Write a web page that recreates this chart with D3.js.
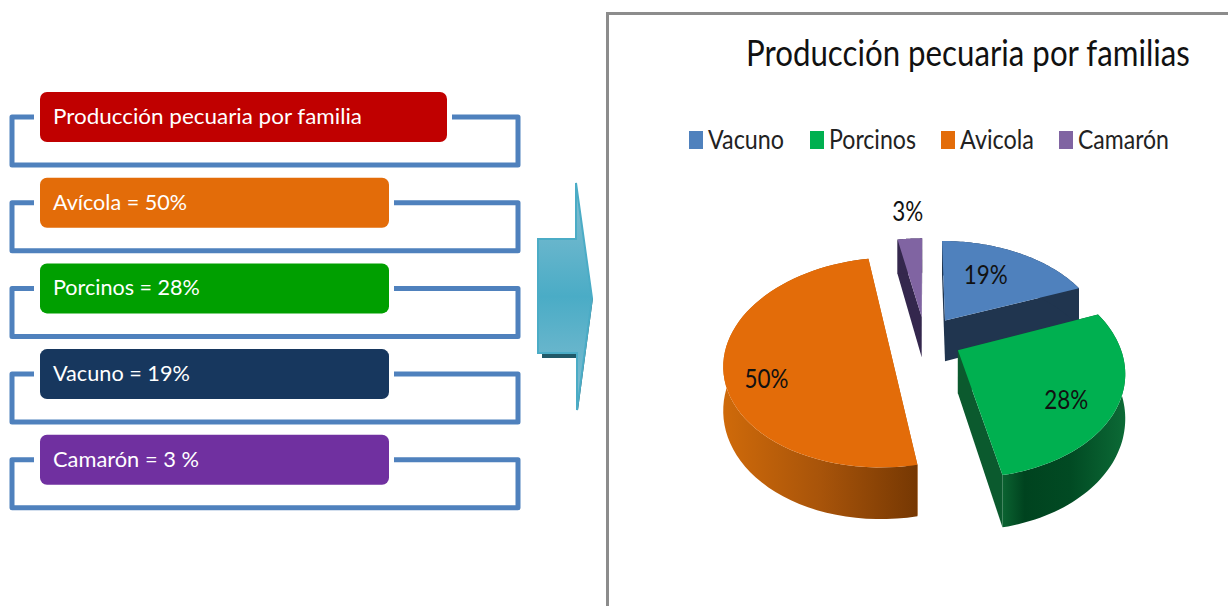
<!DOCTYPE html>
<html><head><meta charset="utf-8">
<script src="https://cdn.jsdelivr.net/npm/d3@7/dist/d3.min.js"></script>
<style>html,body{margin:0;padding:0;background:#fff;overflow:hidden}svg{display:block}text{font-family:Lato,"Open Sans",sans-serif}</style>
</head><body><svg id="c" width="1228" height="606"></svg>
<script>
const categories = ["Vacuno","Porcinos","Avicola","Camarón"];
const shares = [19,28,50,3];
const chartTitle = "Producción pecuaria por familias";
const listLabels = ["Producción pecuaria por familia","Avícola = 50%","Porcinos = 28%","Vacuno = 19%","Camarón = 3 %"];
const listColors = ["#c00000","#e36c09","#009f00","#17375e","#7030a0"];
const topColors = ["#4f81bd","#00b050","#e36c09","#8064a2"];
const sideColors = ["#20354f","#0b5a2e","#b85c08","#34274d"];
const labelRadius = [0.52,0.72,0.74,1.42];
const labelNudgeX = [0,-4,-1,2];
const labelNudgeY = [-9,10,20,-1];
const legendX = [689,810,941,1059];
const legendW = [76,87,74,91];
const listTextW = [309,134,147,137,146];

const svg = d3.select("#c");
const defs = svg.append("defs");
function grad(id,stops,vertical){
  const g=defs.append("linearGradient").attr("id",id).attr("x1",0).attr("y1",0).attr("x2",vertical?0:1).attr("y2",vertical?1:0);
  stops.forEach(s=>g.append("stop").attr("offset",s[0]).attr("stop-color",s[1]));
}
grad("wallA",[[0,"#cf6a0a"],[0.5,"#a8540a"],[1,"#763803"]]);
grad("wallP",[[0,"#0b6331"],[0.18,"#00431f"],[0.55,"#014a23"],[1,"#0c6a36"]]);
grad("arrow",[[0,"#86bfd2"],[0.5,"#4aacc6"],[1,"#86bfd2"]],true);

// fit a text to a width by horizontal scaling
function fit(sel,x,y,w){
  sel.attr("x",0).attr("y",0);
  const n=sel.node(), len=n.getComputedTextLength();
  sel.attr("transform",`translate(${x},${y}) scale(${w/len},1)`);
}

/* left list */
const rowY = d3.scaleLinear().domain([0,1]).range([92,177.7]);
const row = svg.append("g").selectAll("g").data(listLabels).join("g");
const frameLine = d3.line().curve(d3.curveLinear);
row.each(function(d,i){
  const g=d3.select(this), y=rowY(i), w=i===0?407:349, top=y+25, bot=y+73;
  g.append("path").attr("d",frameLine([[34,top],[12,top],[12,bot],[518,bot],[518,top],[40+w+5,top]]))
    .attr("fill","none").attr("stroke","#4f81bd").attr("stroke-width",5).attr("stroke-linejoin","round");
  g.append("rect").attr("x",40).attr("y",y).attr("width",w).attr("height",50).attr("rx",7).attr("fill",listColors[i]);
  const t=g.append("text").attr("font-size",22).attr("fill","#fff").text(d);
  fit(t,53,y+32,listTextW[i]);
});

/* arrow */
const arrowPts=[[538,239],[576,239],[576,183],[592,298],[577,410],[577,353],[538,353]];
svg.append("path").attr("d",frameLine([[542,358],[578,358],[578,410],[593,298],[580,298],[577,353],[542,353]])+"Z").attr("fill","#215968");
svg.append("path").attr("d",frameLine(arrowPts)+"Z").attr("fill","url(#arrow)").attr("stroke","#4bacc6").attr("stroke-width",2);

/* chart frame */
svg.append("path").attr("d",frameLine([[1228,13.5],[607.5,13.5],[607.5,606]])).attr("fill","none").attr("stroke","#8c8c8c").attr("stroke-width",3);
fit(svg.append("text").attr("font-size",36).attr("fill","#111").text(chartTitle),746,66,444);

/* legend */
const leg=svg.append("g").selectAll("g").data(categories).join("g");
leg.append("rect").attr("x",(d,i)=>legendX[i]).attr("y",131).attr("width",14).attr("height",18).attr("fill",(d,i)=>topColors[i]);
leg.append("text").attr("font-size",27).attr("fill","#222").text(d=>d)
  .each(function(d,i){fit(d3.select(this),legendX[i]+19,149,legendW[i]);});

/* exploded 3-D pie with perspective */
const Cx=925,Cy=339,A=160,B=100,K=0.18,EX=0.23,H=42;
const px=d3.scaleLinear().domain([0,1]).range([0,A]);
const py=d3.scaleLinear().domain([0,1]).range([0,B]);
const arcs=d3.pie().sort(null)(shares);
function proj(ox,oy,r,th,drop){
  const X=ox+r*Math.sin(th), V=oy+r*Math.cos(th), w=1/(1+K*V);
  return [Cx+px(X)*w, Cy-py(V)*w+(drop?H*w:0)];
}
const order=[3,0,2,1];
const pie=svg.append("g");
const closed=d3.line();
order.forEach(i=>{
  const a=arcs[i], mid=(a.startAngle+a.endAngle)/2, ox=EX*Math.sin(mid), oy=EX*Math.cos(mid);
  const thetas=d3.range(0,61).map(j=>a.startAngle+(a.endAngle-a.startAngle)*j/60);
  const top=thetas.map(t=>proj(ox,oy,1,t,false)), bot=thetas.map(t=>proj(ox,oy,1,t,true));
  const apex=proj(ox,oy,0,0,false), apexB=proj(ox,oy,0,0,true);
  const g=pie.append("g");
  const flat=sideColors[i];
  g.append("path").attr("d",closed([apex,top[0],bot[0],apexB])+"Z").attr("fill",flat);
  g.append("path").attr("d",closed([apex,top[60],bot[60],apexB])+"Z").attr("fill",flat);
  const wallFill=i===2?"url(#wallA)":i===1?"url(#wallP)":flat;
  g.append("path").attr("d",closed(top.concat(bot.slice().reverse()))+"Z").attr("fill",wallFill);
  g.append("path").attr("d",closed([apex].concat(top))+"Z").attr("fill",topColors[i]);
});
svg.append("g").selectAll("text").data(arcs).join("text")
  .attr("font-size",27).attr("fill","#111").text(a=>a.data+"%")
  .each(function(a,i){
    const mid=(a.startAngle+a.endAngle)/2;
    const p=proj(EX*Math.sin(mid),EX*Math.cos(mid),labelRadius[i],mid,false);
    const w=i===3?31:44;
    fit(d3.select(this),p[0]+labelNudgeX[i]-w/2,p[1]+10+labelNudgeY[i],w);
  });
</script></body></html>
